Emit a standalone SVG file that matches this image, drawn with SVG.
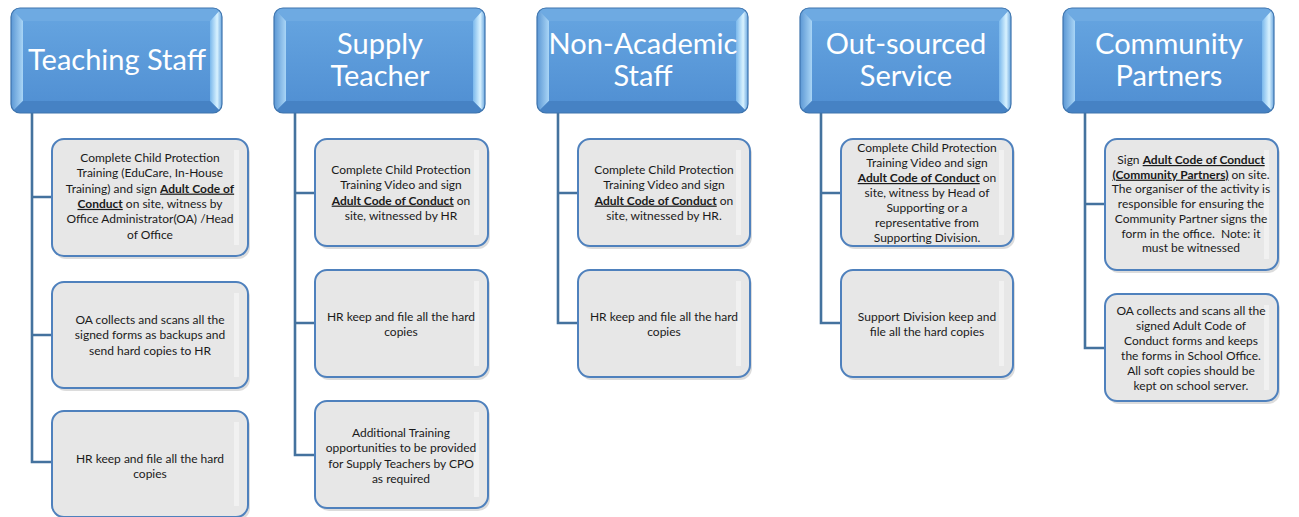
<svg xmlns="http://www.w3.org/2000/svg" xmlns:xlink="http://www.w3.org/1999/xlink" width="1299" height="517" viewBox="0 0 1299 517">
<style>
.ht{font-family:"Lato","Liberation Sans",sans-serif;font-size:29px;fill:#ffffff;text-anchor:middle}
.ct{font-family:"Lato","Liberation Sans",sans-serif;font-size:12px;fill:#1a1a1a;text-anchor:middle}
.b{font-weight:bold;text-decoration:underline}
.box{fill:#e7e7e7;stroke:#4f81bd;stroke-width:2}
.sh{fill:#9a9a9a;opacity:0.35}
.strip{fill:#f1f1f1}
.con{fill:none;stroke:#44729e;stroke-width:2.6}
</style>
<defs>
<linearGradient id="face" x1="0" y1="0" x2="0" y2="1"><stop offset="0" stop-color="#67a6e1"/><stop offset="1" stop-color="#4f8ed2"/></linearGradient>
<linearGradient id="lb" x1="0" y1="0" x2="1" y2="0"><stop offset="0" stop-color="#5b97d4"/><stop offset="1" stop-color="#a9d5f6"/></linearGradient>
<linearGradient id="rb" x1="0" y1="0" x2="1" y2="0"><stop offset="0" stop-color="#7ab8ec"/><stop offset="0.6" stop-color="#d8f2ff"/><stop offset="1" stop-color="#6aa6df"/></linearGradient>
<clipPath id="hc"><rect x="0" y="0" width="211" height="105" rx="9"/></clipPath>
<g id="hdr">
<g clip-path="url(#hc)">
<rect x="0" y="0" width="211" height="105" fill="url(#face)"/>
<polygon points="0,0 211,0 199,13 12,13" fill="#6eaae2"/>
<polygon points="0,0 12,13 12,93 0,105" fill="url(#lb)"/>
<polygon points="211,0 211,105 199,93 199,13" fill="url(#rb)"/>
<polygon points="0,105 12,93 199,93 211,105" fill="#4682c4"/>
</g>
<rect x="0" y="0" width="211" height="105" rx="9" fill="none" stroke="#3e74ad" stroke-width="1.2"/>
</g>
</defs>
<rect width="1299" height="517" fill="#ffffff"/>

<g id="connectors">
<path class="con" d="M32,112 V197 H52 M32,112 V335 H52 M32,112 V462 H52"/>
<path class="con" d="M295,112 V193 H315 M295,112 V323 H315 M295,112 V455 H315"/>
<path class="con" d="M558,112 V193 H578 M558,112 V323 H578"/>
<path class="con" d="M821,112 V193 H841 M821,112 V323 H841"/>
<path class="con" d="M1085,112 V204 H1105 M1085,112 V348 H1105"/>
</g>

<g id="teaching-staff">
<use xlink:href="#hdr" x="11" y="8"/>
<text class="ht" x="117" y="70">Teaching Staff</text>
</g>
<g id="supply-teacher">
<use xlink:href="#hdr" x="274" y="8"/>
<text class="ht" x="380" y="54">Supply</text>
<text class="ht" x="380" y="86">Teacher</text>
</g>
<g id="non-academic-staff">
<use xlink:href="#hdr" x="537" y="8"/>
<text class="ht" x="643" y="54">Non-Academic</text>
<text class="ht" x="643" y="86">Staff</text>
</g>
<g id="out-sourced-service">
<use xlink:href="#hdr" x="800" y="8"/>
<text class="ht" x="906" y="54">Out-sourced</text>
<text class="ht" x="906" y="86">Service</text>
</g>
<g id="community-partners">
<use xlink:href="#hdr" x="1063" y="8"/>
<text class="ht" x="1169" y="54">Community</text>
<text class="ht" x="1169" y="86">Partners</text>
</g>

<!-- Column 1 -->
<g id="ts-1">
<rect class="sh" x="54" y="142" width="196" height="117" rx="12"/>
<rect class="box" x="52" y="139" width="196" height="117" rx="12"/>
<rect class="strip" x="234" y="150" width="5" height="95"/>
<text class="ct" x="150" y="162"><tspan x="150">Complete Child Protection</tspan><tspan x="150" dy="15.3">Training (EduCare, In-House</tspan><tspan x="150" dy="15.3">Training) and sign <tspan class="b">Adult Code of</tspan></tspan><tspan x="150" dy="15.3"><tspan class="b">Conduct</tspan> on site, witness by</tspan><tspan x="150" dy="15.3">Office Administrator(OA) /Head</tspan><tspan x="150" dy="15.3">of Office</tspan></text>
</g>
<g id="ts-2">
<rect class="sh" x="54" y="285" width="196" height="106" rx="12"/>
<rect class="box" x="52" y="282" width="196" height="106" rx="12"/>
<rect class="strip" x="234" y="293" width="5" height="84"/>
<text class="ct" x="150" y="324"><tspan x="150">OA collects and scans all the</tspan><tspan x="150" dy="15.3">signed forms as backups and</tspan><tspan x="150" dy="15.3">send hard copies to HR</tspan></text>
</g>
<g id="ts-3">
<rect class="sh" x="54" y="414" width="196" height="106" rx="12"/>
<rect class="box" x="52" y="411" width="196" height="106" rx="12"/>
<rect class="strip" x="234" y="422" width="5" height="84"/>
<text class="ct" x="150" y="463"><tspan x="150">HR keep and file all the hard</tspan><tspan x="150" dy="15.3">copies</tspan></text>
</g>

<!-- Column 2 -->
<g id="st-1">
<rect class="sh" x="317" y="142" width="173" height="107" rx="12"/>
<rect class="box" x="315" y="139" width="173" height="107" rx="12"/>
<rect class="strip" x="474" y="150" width="5" height="85"/>
<text class="ct" x="401" y="174"><tspan x="401">Complete Child Protection</tspan><tspan x="401" dy="15.3">Training Video and sign</tspan><tspan x="401" dy="15.3"><tspan class="b">Adult Code of Conduct</tspan> on</tspan><tspan x="401" dy="15.3">site, witnessed by HR</tspan></text>
</g>
<g id="st-2">
<rect class="sh" x="317" y="273" width="173" height="107" rx="12"/>
<rect class="box" x="315" y="270" width="173" height="107" rx="12"/>
<rect class="strip" x="474" y="281" width="5" height="85"/>
<text class="ct" x="401" y="321"><tspan x="401">HR keep and file all the hard</tspan><tspan x="401" dy="15.3">copies</tspan></text>
</g>
<g id="st-3">
<rect class="sh" x="317" y="404" width="173" height="107" rx="12"/>
<rect class="box" x="315" y="401" width="173" height="107" rx="12"/>
<rect class="strip" x="474" y="412" width="5" height="85"/>
<text class="ct" x="401" y="437"><tspan x="401">Additional Training</tspan><tspan x="401" dy="15.3">opportunities to be provided</tspan><tspan x="401" dy="15.3">for Supply Teachers by CPO</tspan><tspan x="401" dy="15.3">as required</tspan></text>
</g>

<!-- Column 3 -->
<g id="na-1">
<rect class="sh" x="580" y="142" width="172" height="107" rx="12"/>
<rect class="box" x="578" y="139" width="172" height="107" rx="12"/>
<rect class="strip" x="736" y="150" width="5" height="85"/>
<text class="ct" x="664" y="174"><tspan x="664">Complete Child Protection</tspan><tspan x="664" dy="15.3">Training Video and sign</tspan><tspan x="664" dy="15.3"><tspan class="b">Adult Code of Conduct</tspan> on</tspan><tspan x="664" dy="15.3">site, witnessed by HR.</tspan></text>
</g>
<g id="na-2">
<rect class="sh" x="580" y="273" width="172" height="107" rx="12"/>
<rect class="box" x="578" y="270" width="172" height="107" rx="12"/>
<rect class="strip" x="736" y="281" width="5" height="85"/>
<text class="ct" x="664" y="321"><tspan x="664">HR keep and file all the hard</tspan><tspan x="664" dy="15.3">copies</tspan></text>
</g>

<!-- Column 4 -->
<g id="os-1">
<rect class="sh" x="843" y="142" width="172" height="107" rx="12"/>
<rect class="box" x="841" y="139" width="172" height="107" rx="12"/>
<rect class="strip" x="999" y="150" width="5" height="85"/>
<text class="ct" x="927" y="152"><tspan x="927">Complete Child Protection</tspan><tspan x="927" dy="15">Training Video and sign</tspan><tspan x="927" dy="15"><tspan class="b">Adult Code of Conduct</tspan> on</tspan><tspan x="927" dy="15">site, witness by Head of</tspan><tspan x="927" dy="15">Supporting or a</tspan><tspan x="927" dy="15">representative from</tspan><tspan x="927" dy="15">Supporting Division.</tspan></text>
</g>
<g id="os-2">
<rect class="sh" x="843" y="273" width="172" height="107" rx="12"/>
<rect class="box" x="841" y="270" width="172" height="107" rx="12"/>
<rect class="strip" x="999" y="281" width="5" height="85"/>
<text class="ct" x="927" y="321"><tspan x="927">Support Division keep and</tspan><tspan x="927" dy="15.3">file all the hard copies</tspan></text>
</g>

<!-- Column 5 -->
<g id="cp-1">
<rect class="sh" x="1107" y="142" width="173" height="131" rx="12"/>
<rect class="box" x="1105" y="139" width="173" height="131" rx="12"/>
<rect class="strip" x="1264" y="150" width="5" height="109"/>
<text class="ct" x="1191" y="164"><tspan x="1191">Sign <tspan class="b">Adult Code of Conduct</tspan></tspan><tspan x="1191" dy="14.7"><tspan class="b">(Community Partners)</tspan> on site.</tspan><tspan x="1191" dy="14.7">The organiser of the activity is</tspan><tspan x="1191" dy="14.7">responsible for ensuring the</tspan><tspan x="1191" dy="14.7">Community Partner signs the</tspan><tspan x="1191" dy="14.7">form in the office.&#160; Note: it</tspan><tspan x="1191" dy="14.7">must be witnessed</tspan></text>
</g>
<g id="cp-2">
<rect class="sh" x="1107" y="297" width="173" height="107" rx="12"/>
<rect class="box" x="1105" y="294" width="173" height="107" rx="12"/>
<rect class="strip" x="1264" y="305" width="5" height="85"/>
<text class="ct" x="1191" y="315"><tspan x="1191">OA collects and scans all the</tspan><tspan x="1191" dy="15">signed Adult Code of</tspan><tspan x="1191" dy="15">Conduct forms and keeps</tspan><tspan x="1191" dy="15">the forms in School Office.</tspan><tspan x="1191" dy="15">All soft copies should be</tspan><tspan x="1191" dy="15">kept on school server.</tspan></text>
</g>
</svg>
